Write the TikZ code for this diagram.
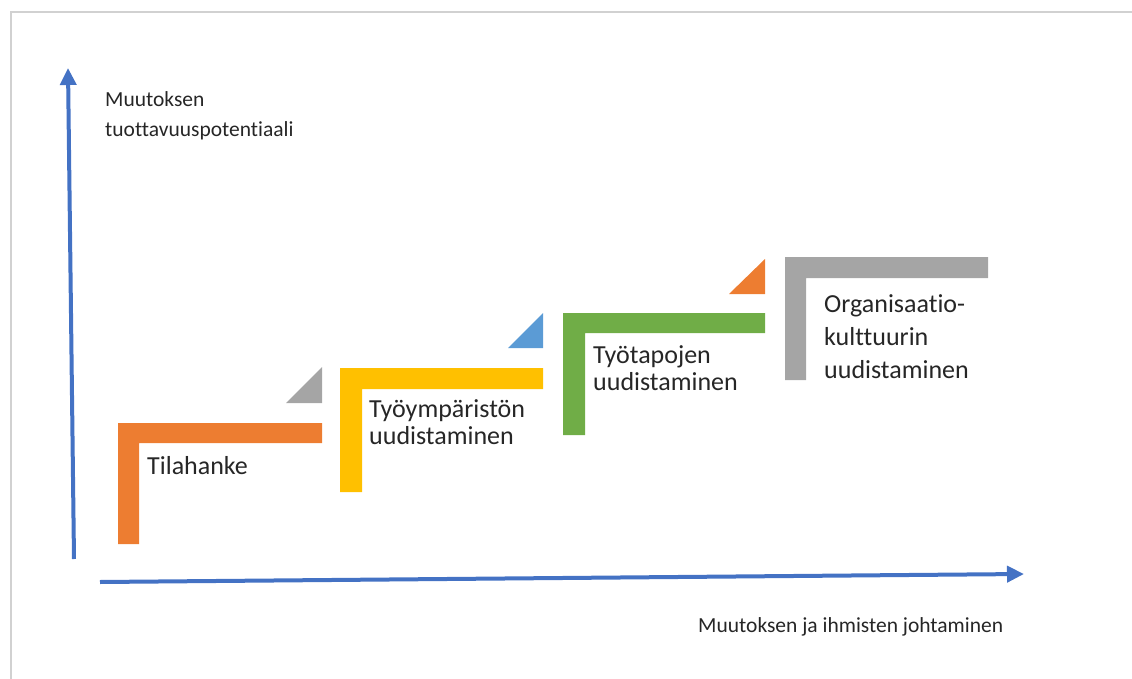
\documentclass[tikz,border=0pt]{standalone}
\usepackage{fontspec}
\setmainfont{Carlito}[Ligatures=NoCommon]
\usetikzlibrary{arrows.meta}
\definecolor{axisblue}{RGB}{68,114,196}
\definecolor{steporange}{RGB}{237,125,49}
\definecolor{stepyellow}{RGB}{255,192,0}
\definecolor{stepgreen}{RGB}{112,173,71}
\definecolor{stepgray}{RGB}{165,165,165}
\definecolor{stepblue}{RGB}{91,155,213}

\begin{document}
\begin{tikzpicture}[
  x=1pt, y=-1pt,
  axis/.style={draw=axisblue, line width=4pt, -{Triangle[length=17pt,width=16pt]}},
  axislbl/.style={font=\fontsize{21.5}{30}\selectfont, text=black!85, align=left, inner sep=0pt, anchor=base west},
  steplbl/.style={font=\fontsize{26}{27}\selectfont, text=black!85, align=left, inner sep=0pt, anchor=base west},
  widelbl/.style={steplbl, font=\fontsize{26}{33}\selectfont},
  edge/.style={draw=black!18, line width=2pt},
]
\useasboundingbox (0,0) rectangle (1132,679);

% page edge
\draw[edge] (11,679) -- (11,12) -- (1132,12);

% axes
\coordinate (yfoot) at (74,559);
\coordinate (ytip)  at (68,68);
\coordinate (xfoot) at (100,582);
\coordinate (xtip)  at (1024,574);
\draw[axis] (yfoot) -- (ytip);
\draw[axis] (xfoot) -- (xtip);

\node[axislbl] (ylbl) at (105,137) {Muutoksen\\tuottavuuspotentiaali};
\node[axislbl] (xlbl) at (698,632) {Muutoksen ja ihmisten johtaminen};

% steps
\fill[steporange] (118,423) -- (322,423) -- (322,443) -- (139,443) -- (139,544) -- (118,544) -- cycle;
\fill[stepyellow] (340,368) -- (543,368) -- (543,389) -- (362,389) -- (362,492) -- (340,492) -- cycle;
\fill[stepgreen]  (563,313) -- (765,313) -- (765,333) -- (585,333) -- (585,435) -- (563,435) -- cycle;
\fill[stepgray]   (785,257) -- (988,257) -- (988,278) -- (806,278) -- (806,380) -- (785,380) -- cycle;

% corner marks
\fill[stepgray]   (286,403) -- (322,367) -- (322,403) -- cycle;
\fill[stepblue]   (508,348) -- (543,313) -- (543,348) -- cycle;
\fill[steporange] (729,294) -- (765,259) -- (765,294) -- cycle;

\node[steplbl] (s1) at (147,474) {Tilahanke};
\node[steplbl] (s2) at (369,444) {Työympäristön\\uudistaminen};
\node[steplbl] (s3) at (593,390) {Työtapojen\\uudistaminen};
\node[widelbl] (s4) at (824,378) {Organisaatio-\\kulttuurin\\uudistaminen};

\end{tikzpicture}
\end{document}
